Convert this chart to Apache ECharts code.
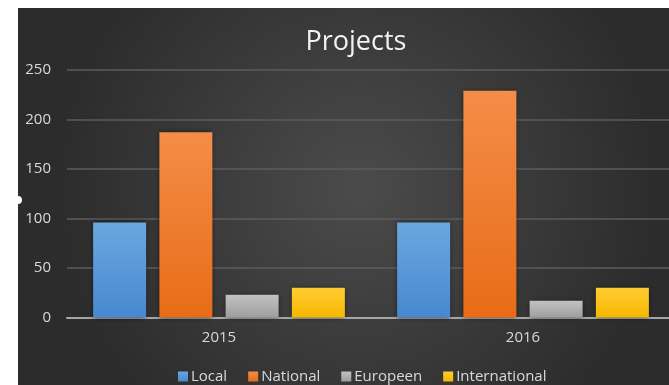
<!DOCTYPE html>
<html>
<head>
<meta charset="utf-8">
<script src="https://cdn.jsdelivr.net/npm/echarts@6/dist/echarts.min.js"></script>
<style>
  html, body { margin: 0; padding: 0; background: #ffffff; }
  #chart { width: 669px; height: 385px; }
</style>
</head>
<body>
<div id="chart"></div>
<script>
// Project counts per year, by scope
const categories = ['2015', '2016'];
const seriesNames = ['Local', 'National', 'Europeen', 'International'];
const localValues = [96, 96];
const nationalValues = [187, 229];
const europeenValues = [23, 17];
const internationalValues = [30, 30];
const yTicks = [0, 50, 100, 150, 200, 250];

const FONT = '"Open Sans", "Noto Sans", sans-serif';

function vGrad(top, bottom) {
  return new echarts.graphic.LinearGradient(0, 0, 0, 1, [
    { offset: 0, color: top },
    { offset: 1, color: bottom }
  ]);
}

const barStyles = [
  vGrad('#6ba7e0', '#4788cf'),
  vGrad('#f48d48', '#e86c17'),
  vGrad('#c2c2c2', '#9e9e9e'),
  vGrad('#ffcd33', '#f5b700')
];
const legendColors = ['#5b9bd5', '#ed7d31', '#a5a5a5', '#ffc000'];
const valueSets = [localValues, nationalValues, europeenValues, internationalValues];

const chart = echarts.init(document.getElementById('chart'), null, { renderer: 'canvas' });

const option = {
  backgroundColor: '#ffffff',
  animation: false,
  color: legendColors,
  graphic: [
    {
      type: 'rect',
      z: -10,
      silent: true,
      shape: { x: 18, y: 8, width: 680, height: 400 },
      style: {
        fill: new echarts.graphic.RadialGradient(0.5, 0.45, 0.75, [
          { offset: 0, color: '#4b4b4b' },
          { offset: 1, color: '#2c2c2c' }
        ])
      }
    },
    {
      type: 'circle',
      z: 10,
      silent: true,
      shape: { cx: 18, cy: 200, r: 4 },
      style: { fill: '#ffffff' }
    }
  ],
  title: {
    text: 'Projects',
    left: 356,
    top: 29,
    padding: 0,
    textAlign: 'center',
    textStyle: {
      color: '#f2f2f2',
      fontFamily: FONT,
      fontWeight: 'normal',
      fontSize: 27
    }
  },
  legend: {
    left: 178,
    top: 369,
    padding: 0,
    icon: 'rect',
    itemWidth: 10,
    itemHeight: 10,
    itemGap: 21,
    data: seriesNames,
    textStyle: {
      color: '#d9d9d9',
      fontFamily: FONT,
      fontSize: 15,
      padding: [0, 0, 0, -2]
    }
  },
  grid: {
    left: 67,
    top: 70,
    width: 608,
    bottom: 67.5,
    containLabel: false,
    outerBoundsMode: 'none'
  },
  xAxis: {
    type: 'category',
    data: categories,
    axisTick: { show: false },
    axisLine: { show: true, lineStyle: { color: '#a6a6a6', width: 2 } },
    axisLabel: {
      color: '#d9d9d9',
      fontFamily: FONT,
      fontSize: 15,
      margin: 13
    }
  },
  yAxis: {
    type: 'value',
    min: yTicks[0],
    max: yTicks[yTicks.length - 1],
    interval: yTicks[1] - yTicks[0],
    axisLine: { show: false },
    axisTick: { show: false },
    axisLabel: {
      color: '#d9d9d9',
      fontFamily: FONT,
      fontSize: 15,
      margin: 16
    },
    splitLine: { lineStyle: { color: '#5c5c5c', width: 1.5 } }
  },
  series: seriesNames.map((name, i) => ({
    name: name,
    type: 'bar',
    data: valueSets[i],
    barWidth: 53,
    barGap: '25%',
    itemStyle: {
      color: barStyles[i],
      shadowColor: 'rgba(0,0,0,0.55)',
      shadowBlur: 5
    }
  }))
};

chart.setOption(option);
</script>
</body>
</html>
